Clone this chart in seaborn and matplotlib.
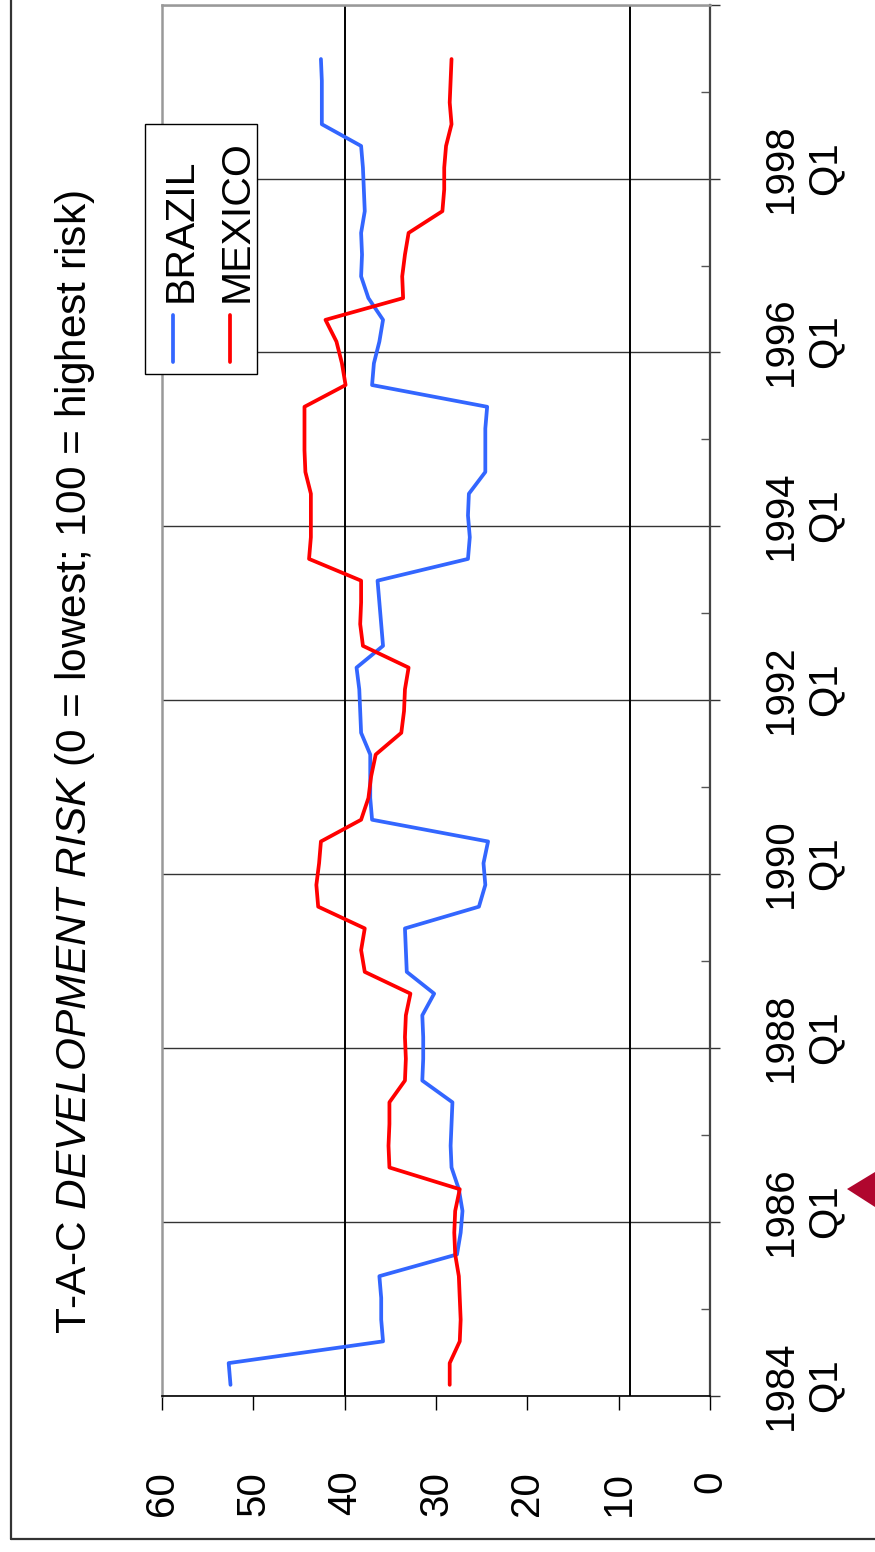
import matplotlib
matplotlib.use("Agg")
import matplotlib.pyplot as plt
import pandas as pd
import seaborn as sns
from matplotlib.lines import Line2D
from matplotlib.patches import Rectangle, Polygon

# ---- data: quarterly development-risk index, 1984 Q1 .. 1999 Q2 ----
years = list(range(1984, 2000))
quarter_names = ["Q1", "Q2", "Q3", "Q4"]

brazil = [52.5, 52.7, 35.8, 36.0, 36.0, 36.2, 27.7, 27.3,
          27.1, 27.5, 28.3, 28.4, 28.3, 28.2, 31.5, 31.4,
          31.4, 31.5, 30.2, 33.2, 33.3, 33.4, 25.3, 24.6,
          24.8, 24.3, 37.0, 37.2, 37.2, 37.2, 38.2, 38.3,
          38.4, 38.7, 35.8, 36.0, 36.2, 36.4, 26.5, 26.3,
          26.5, 26.4, 24.6, 24.6, 24.6, 24.4, 37.0, 36.8,
          36.2, 35.8, 37.4, 38.2, 38.1, 38.2, 37.8, 37.9,
          38.0, 38.2, 42.5, 42.5, 42.5, 42.6]

mexico = [28.5, 28.5, 27.4, 27.3, 27.4, 27.5, 27.9, 28.0,
          27.9, 27.4, 35.1, 35.2, 35.1, 35.1, 33.4, 33.3,
          33.4, 33.3, 32.8, 37.8, 38.2, 37.8, 42.9, 43.1,
          42.8, 42.6, 38.2, 37.4, 37.1, 36.6, 33.8, 33.5,
          33.4, 33.0, 38.0, 38.3, 38.2, 38.2, 43.9, 43.7,
          43.7, 43.7, 44.3, 44.4, 44.4, 44.4, 39.9, 40.3,
          40.9, 42.1, 33.6, 33.7, 33.4, 33.0, 29.3, 29.1,
          29.1, 28.9, 28.3, 28.5, 28.4, 28.3]

countries = ["BRAZIL", "MEXICO"]
colors = {"BRAZIL": "#3366FF", "MEXICO": "#FF0000"}

value_ticks = [0, 10, 20, 30, 40, 50, 60]
reference_lines = [40, 8.8]
time_labels = ["1984\nQ1", "1986\nQ1", "1988\nQ1", "1990\nQ1",
               "1992\nQ1", "1994\nQ1", "1996\nQ1", "1998\nQ1"]

title = r"T-A-C $\mathit{DEVELOPMENT\ RISK}$ (0 = lowest; 100 = highest risk)"

# ---- tidy table ----
all_quarters = [f"{y} {q}" for y in years for q in quarter_names]
n = len(brazil)
df = pd.DataFrame({
    "quarter": all_quarters[:n] * 2,
    "pos": list(range(n)) * 2,
    "country": ["BRAZIL"] * n + ["MEXICO"] * n,
    "risk": brazil + mexico,
})
n_cat = len(all_quarters)

# ---- style ----
sns.set_theme(style="white")
plt.rcParams["font.family"] = ["Liberation Sans", "DejaVu Sans"]
plt.rcParams["mathtext.fontset"] = "custom"
plt.rcParams["mathtext.rm"] = "Liberation Sans"
plt.rcParams["mathtext.it"] = "Liberation Sans:italic"

W, H = 875, 1552
fig = plt.figure(figsize=(W / 100, H / 100), dpi=100)
fig.patch.set_facecolor("white")

# chart is laid out sideways: value axis runs horizontally, time runs upward
x0, x1 = 162, 710
y_top, y_bot = 4.7, 1395.7
ax = fig.add_axes([x0 / W, 1 - y_bot / H, (x1 - x0) / W, (y_bot - y_top) / H])
ax.set_facecolor("white")

sns.lineplot(data=df, x="risk", y="pos", hue="country", palette=colors,
             orient="y", estimator=None, linewidth=2.7, legend=False, ax=ax,
             zorder=3)

ax.set_xlim(60, 0)
ax.set_ylim(-0.5, n_cat - 0.5)
ax.set_xlabel("")
ax.set_ylabel("")

# value axis (bottom)
ax.set_xticks(value_ticks)
ax.set_xticklabels([str(v) for v in value_ticks], rotation=90, va="top", ha="center")
ax.tick_params(axis="x", direction="out", length=10, width=1, color="black",
               pad=44, labelsize=29, labelcolor="black", bottom=True)

# time axis (right)
ax.yaxis.tick_right()
label_pos = list(range(0, n_cat, 8))
ax.set_yticks(label_pos)
ax.set_yticklabels(time_labels, rotation=90, va="center", ha="left",
                   multialignment="center", linespacing=1.2)
ax.tick_params(axis="y", which="major", length=0, pad=37, labelsize=29,
               labelcolor="black")

# two-year boundaries: gridlines with outward ticks
boundaries = [p - 0.5 for p in range(0, n_cat + 1, 8)]
ax.set_yticks(boundaries, minor=True)
ax.tick_params(axis="y", which="minor", direction="out", length=7.5, width=1,
               color="#333333", right=True, left=False)
ax.grid(False)
ax.grid(True, which="minor", axis="y", color="#333333", linewidth=1.0, zorder=1)

# odd-year inner ticks
odd_years = [p - 0.5 for p in range(4, n_cat, 8)]
ax.hlines(odd_years, xmin=0, xmax=1.0, color="#555555", linewidth=1.0, zorder=2)

for v in reference_lines:
    ax.axvline(v, color="black", linewidth=1.4, zorder=2)

for side, col, lw in [("left", "#999999", 1.8), ("top", "#999999", 1.8),
                      ("bottom", "black", 1.2), ("right", "#444444", 1.6)]:
    ax.spines[side].set_visible(True)
    ax.spines[side].set_color(col)
    ax.spines[side].set_linewidth(lw)

# title
fig.text(75 / W, 1 - 762 / H, title, rotation=90, ha="center", va="center",
         fontsize=30.5, color="black")

# legend box (sideways)
fig.add_artist(Rectangle((145 / W, 1 - 374 / H), (257 - 145) / W, (374 - 124) / H,
                         transform=fig.transFigure, facecolor="white",
                         edgecolor="black", linewidth=1.0, zorder=5))
for name, hx, tx in [("BRAZIL", 173, 181), ("MEXICO", 229.5, 237)]:
    fig.add_artist(Line2D([hx / W, hx / W], [1 - 362 / H, 1 - 315 / H],
                          transform=fig.transFigure, color=colors[name],
                          linewidth=2.7, zorder=6))
    fig.text(tx / W, 1 - 302 / H, name, rotation=90, ha="center", va="bottom",
             fontsize=29.5, color="black", zorder=6)

# page frame
fig.add_artist(Line2D([11 / W, 11 / W], [1 - 1539 / H, 1.0], transform=fig.transFigure,
                      color="#333333", linewidth=1.6))
fig.add_artist(Line2D([11 / W, 1.0], [1 - 1539 / H, 1 - 1539 / H], transform=fig.transFigure,
                      color="#333333", linewidth=1.6))

# page marker
fig.add_artist(Polygon([[847 / W, 1 - 1189 / H], [1.0, 1 - 1172 / H], [1.0, 1 - 1207 / H]],
                       closed=True, transform=fig.transFigure, facecolor="#B0062E",
                       edgecolor="none", zorder=6))

fig.savefig("out.png", dpi=100)
